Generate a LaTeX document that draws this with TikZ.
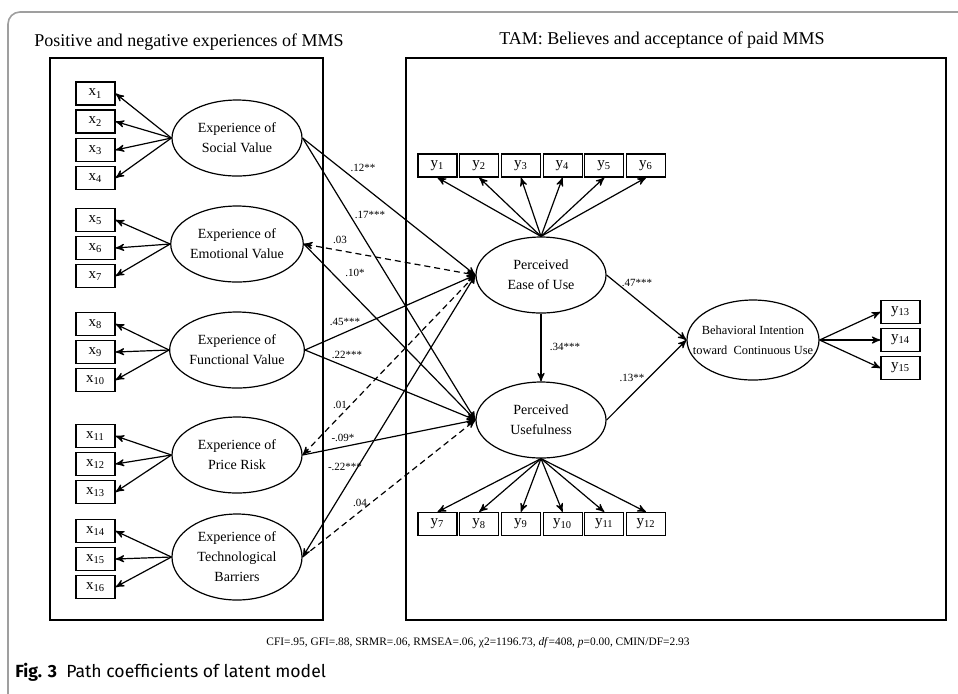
\documentclass[tikz,border=0pt]{standalone}
\usepackage{fontspec}
\setmainfont{Liberation Serif}
\newfontfamily\capfont{Fira Sans}
\usetikzlibrary{arrows,positioning,shapes}
\tikzset{
        >=stealth', % small sharp arrow heads
        every path/.style={line width=0.6pt},
        coefline/.style={->}, % structural path
        nscoef/.style={->,dashed,dash pattern=on 3pt off 2pt}, % not significant
    }
\tikzstyle{latent}=[draw,ellipse,minimum width=65pt,minimum height=38pt,inner sep=0pt,align=center,font=\fontsize{7}{10}\selectfont]
\tikzstyle{item}=[draw,rectangle,minimum width=19.5pt,minimum height=11.5pt,inner sep=0pt,font=\fontsize{7.5}{8}\selectfont]
\tikzstyle{coef}=[font=\fontsize{5.5}{6}\selectfont,inner sep=0.5pt]
\tikzstyle{title}=[font=\fontsize{9}{11}\selectfont]

\begin{document}
\begin{tikzpicture}[x=0.5pt,y=-0.5pt]
    \useasboundingbox (0,0) rectangle (958,693);
    % page frame
    \draw[gray!75,line width=0.8pt,rounded corners=6pt] (8,720) -- (8,12) -- (980,12);

    % the two blocks
    \draw (50,58) rectangle (323,620);
    \draw (406,58) rectangle (946,620);
    \node[title] (lefttitle) at (189,42) {Positive and negative experiences of MMS};
    \node[title] (righttitle) at (662,40) {TAM: Believes and acceptance of paid MMS};

    % experiences of MMS
    \node[latent] (social) at (237,138) {Experience of\\Social Value};
    \node[latent] (emotion) at (237,244) {Experience of\\Emotional Value};
    \node[latent] (function) at (237,350) {Experience of\\Functional Value};
    \node[latent] (price) at (237,455) {Experience of\\Price Risk};
    \node[latent,minimum height=43pt] (tech) at (237,557) {Experience of\\Technological\\Barriers};

    \foreach \i/\y/\src in {1/93.5/social,2/121.5/social,3/150/social,4/178/social,
        5/220/emotion,6/248/emotion,7/276/emotion,
        8/324/function,9/352/function,10/380/function,
        11/436/price,12/464/price,13/492/price,
        14/531/tech,15/559/tech,16/587/tech}
    {
        \node[item] (x\i) at (95.5,\y) {x\textsubscript{\i}};
        \draw[->] (\src.west) -- (x\i.east);
    }

    % TAM
    \node[latent] (peou) at (541,275) {Perceived\\Ease of Use};
    \node[latent] (pu) at (541,420) {Perceived\\Usefulness};
    \node[latent,minimum width=66pt,minimum height=40pt,
        label={[align=center,font=\fontsize{6.2}{10}\selectfont]center:Behavioral Intention\\toward\ \ Continuous Use}] (bi) at (753,340) {};

    \foreach \i in {1,...,6}
    {
        \node[item] (y\i) at ({437.5+41.7*(\i-1)},165.5) {y\textsubscript{\i}};
        \draw[->] (peou.north) -- (y\i.south);
    }
    \foreach \i in {7,...,12}
    {
        \node[item] (y\i) at ({437.5+41.7*(\i-7)},524) {y\textsubscript{\i}};
        \draw[->] (pu.south) -- (y\i.north);
    }
    \foreach \i/\y in {13/312,14/340,15/368}
    {
        \node[item] (y\i) at (900.5,\y) {y\textsubscript{\i}};
        \draw[->] (bi.east) -- (y\i.west);
    }

    % path coefficients
    \draw[coefline] (social.east) -- (peou.west);
    \draw[coefline] (social.east) -- (pu.west);
    \draw[nscoef,<->] (emotion.east) -- (peou.west);
    \draw[coefline] (emotion.east) -- (pu.west);
    \draw[coefline] (function.east) -- (peou.west);
    \draw[coefline] (function.east) -- (pu.west);
    \draw[nscoef,<->] (price.east) -- (peou.west);
    \draw[coefline] (price.east) -- (pu.west);
    \draw[coefline,<->] (tech.east) -- (peou.west);
    \draw[nscoef] (tech.east) -- (pu.west);
    \draw[coefline] (peou.south) -- (pu.north);
    \draw[coefline] (peou.east) -- (bi.west);
    \draw[coefline] (pu.east) -- (bi.west);

    \node[coef] (c1) at (363,168) {.12**};
    \node[coef] (c2) at (370,215) {.17***};
    \node[coef] (c3) at (340,240) {.03};
    \node[coef] (c4) at (355,273) {.10*};
    \node[coef] (c5) at (345,322) {.45***};
    \node[coef] (c6) at (347,355) {.22***};
    \node[coef] (c7) at (340,405) {.01};
    \node[coef] (c8) at (343,438) {-.09*};
    \node[coef] (c9) at (345,467) {-.22***};
    \node[coef] (c10) at (360,503) {.04};
    \node[coef] (c11) at (565,347) {.34***};
    \node[coef] (c12) at (637,283) {.47***};
    \node[coef] (c13) at (632,378) {.13**};

    % fit indices and caption
    \node[font=\fontsize{5.7}{7}\selectfont] (fit) at (478,643)
        {CFI=.95, GFI=.88, SRMR=.06, RMSEA=.06, χ2=1196.73, \textit{df}=408, \textit{p}=0.00, CMIN/DF=2.93};
    \node[anchor=west,font=\capfont\fontsize{8.8}{10}\selectfont] (caption) at (8,672)
        {\textbf{Fig. 3}\ \ Path coefficients of latent model};
\end{tikzpicture}
\end{document}
